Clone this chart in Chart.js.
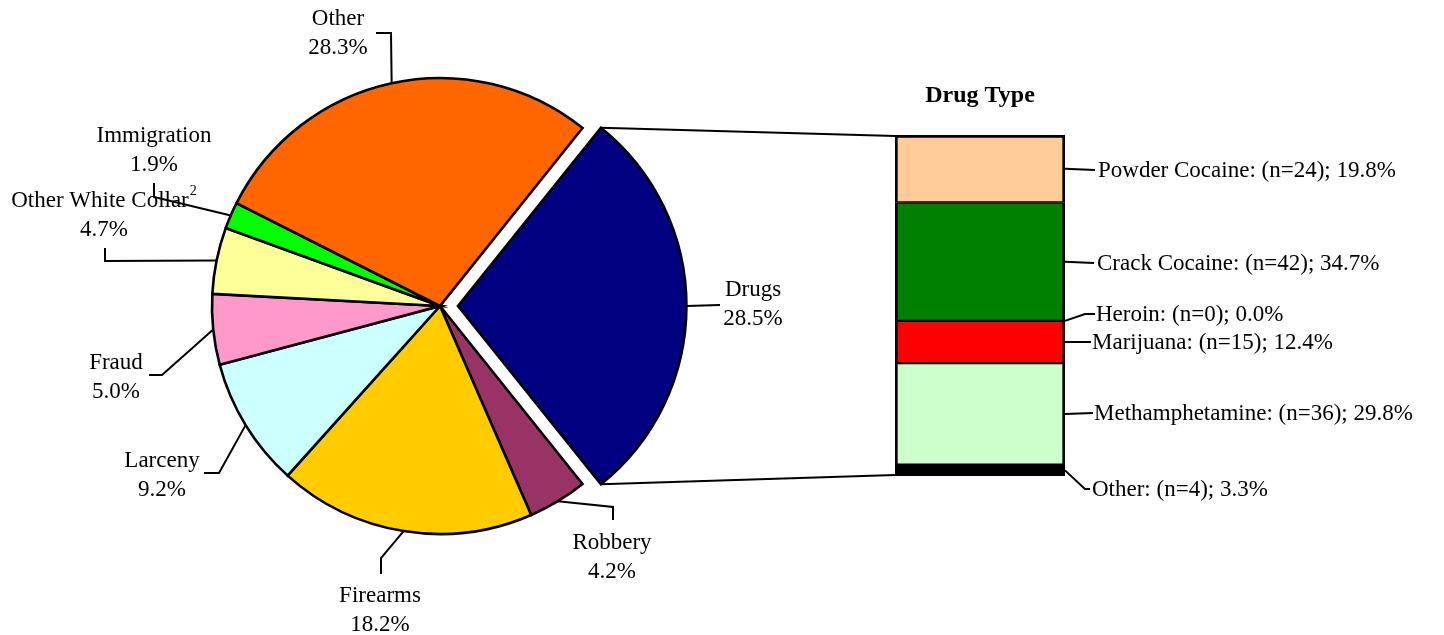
<!DOCTYPE html>
<html>
<head>
<meta charset="utf-8">
<script src="https://cdn.jsdelivr.net/npm/chart.js@4.4.0/dist/chart.umd.min.js"></script>
<style>
    body { margin: 0; background: #fff; }
    #wrap { position: relative; width: 1444px; height: 635px; }
    canvas { position: absolute; left: 0; top: 0; }
</style>
</head>
<body>
<div id="wrap">
    <canvas id="pieChart" width="1444" height="635"></canvas>
    <canvas id="barChart" width="1444" height="635"></canvas>
</div>
<script>
//pie data (percent of all cases), clockwise from the exploded slice
const pieLabels = ["Drugs", "Robbery", "Firearms", "Larceny", "Fraud", "Other White Collar", "Immigration", "Other"];
const pieValues = [28.5, 4.2, 18.2, 9.2, 5.0, 4.7, 1.9, 28.3];
const pieNotes = ["", "", "", "", "", "2", "", ""];
const pieColors = ["#000080", "#993366", "#FFCC00", "#CCFFFF", "#FF99CC", "#FFFF99", "#00FF00", "#FF6600"];

//drug type breakdown
const drugTypes = ["Powder Cocaine", "Crack Cocaine", "Heroin", "Marijuana", "Methamphetamine", "Other"];
const drugCounts = [24, 42, 0, 15, 36, 4];
const drugPercents = [19.8, 34.7, 0.0, 12.4, 29.8, 3.3];
const drugColors = ["#FFCC99", "#008000", "#FF0000", "#FF0000", "#CCFFCC", "#000000"];

//where the labels go (leader line elbows + text position)
const pieLabelLayout = [
    { path: [[720, 305]], text: [753, 290] },
    { path: [[613, 507], [613, 520]], text: [612, 543] },
    { path: [[381, 558], [381, 574]], text: [380, 596] },
    { path: [[219, 473], [204, 473]], text: [162, 461] },
    { path: [[162, 375], [149, 375]], text: [116, 363] },
    { path: [[105, 261], [105, 248]], text: [104, 201] },
    { path: [[154, 197], [154, 183]], text: [154, 136] },
    { path: [[391, 33], [376, 33]], text: [338, 19] }
];
const barLabelLayout = [
    { path: [[1095, 170]], text: [1098, 171] },
    { path: [[1094, 263]], text: [1097, 264] },
    { path: [[1085, 314], [1095, 314]], text: [1096, 315] },
    { path: [[1091, 342]], text: [1092, 343] },
    { path: [[1093, 413]], text: [1094, 414] },
    { path: [[1085, 489], [1090, 489]], text: [1092, 490] }
];

const FONT = '"Liberation Serif", "Times New Roman", serif';
const EXPLODE = 72;

function drawPath(ctx, start, pts) {
    ctx.beginPath();
    ctx.moveTo(start[0], start[1]);
    for (let p of pts) {
        ctx.lineTo(p[0], p[1]);
    }
    ctx.stroke();
}

//outer edge point of an arc, including the explode shift chart.js applies
function arcPoint(arc, angle) {
    const shift = (arc.options.offset || 0) / 4;
    const fix = 1 - Math.sin(Math.min(Math.PI, arc.circumference));
    const r = arc.outerRadius + shift * fix;
    const half = (arc.startAngle + arc.endAngle) / 2;
    return [arc.x + Math.cos(half) * shift + Math.cos(angle) * r,
            arc.y + Math.sin(half) * shift + Math.sin(angle) * r];
}

const pieLabelPlugin = {
    id: "pieLabels",
    afterDatasetsDraw(chart) {
        const ctx = chart.ctx;
        const arcs = chart.getDatasetMeta(0).data;
        ctx.save();
        ctx.strokeStyle = "#000";
        ctx.lineWidth = 2;
        ctx.fillStyle = "#000";
        ctx.textBaseline = "middle";
        arcs.forEach(function(arc, i) {
            const lay = pieLabelLayout[i];
            const anchor = arcPoint(arc, (arc.startAngle + arc.endAngle) / 2);
            drawPath(ctx, anchor, lay.path);

            ctx.font = "23px " + FONT;
            const name = pieLabels[i];
            const nameW = ctx.measureText(name).width;
            let noteW = 0;
            if (pieNotes[i]) {
                ctx.font = "14px " + FONT;
                noteW = ctx.measureText(pieNotes[i]).width + 1;
            }
            const left = lay.text[0] - (nameW + noteW) / 2;
            ctx.textAlign = "left";
            ctx.font = "23px " + FONT;
            ctx.fillText(name, left, lay.text[1]);
            if (pieNotes[i]) {
                ctx.font = "14px " + FONT;
                ctx.fillText(pieNotes[i], left + nameW + 1, lay.text[1] - 10);
            }
            ctx.font = "23px " + FONT;
            ctx.textAlign = "center";
            ctx.fillText(pieValues[i].toFixed(1) + "%", lay.text[0], lay.text[1] + 29);
        });
        ctx.restore();
    }
};

const barLabelPlugin = {
    id: "barLabels",
    afterDraw(chart) {
        const ctx = chart.ctx;
        const area = chart.chartArea;
        ctx.save();
        ctx.strokeStyle = "#000";
        ctx.lineWidth = 2;
        ctx.fillStyle = "#000";

        //title
        ctx.font = "bold 24px " + FONT;
        ctx.textAlign = "center";
        ctx.textBaseline = "middle";
        ctx.fillText("Drug Type", (area.left + area.right) / 2, 96);

        //leader lines + labels
        ctx.font = "23px " + FONT;
        ctx.textAlign = "left";
        for (let i = 0; i < drugTypes.length; i++) {
            const bar = chart.getDatasetMeta(i).data[0];
            const anchor = [bar.x + bar.width / 2, (bar.y + bar.base) / 2];
            const lay = barLabelLayout[i];
            drawPath(ctx, anchor, lay.path);
            const txt = drugTypes[i] + ": (n=" + drugCounts[i] + "); " + drugPercents[i].toFixed(1) + "%";
            ctx.fillText(txt, lay.text[0], lay.text[1]);
        }

        //connectors from the exploded drug slice to the bar
        const arc = pieChart.getDatasetMeta(0).data[0];
        const top = arcPoint(arc, arc.startAngle);
        const bottom = arcPoint(arc, arc.endAngle);
        drawPath(ctx, top, [[area.left, area.top + 1]]);
        drawPath(ctx, bottom, [[area.left, area.bottom - 1]]);
        ctx.restore();
    }
};

//pie chart, exploded slice centred on the right
const pieChart = new Chart(document.getElementById("pieChart"), {
    type: "pie",
    data: {
        labels: pieLabels,
        datasets: [{
            data: pieValues,
            backgroundColor: pieColors,
            borderColor: "#000",
            borderWidth: 2.6,
            borderJoinStyle: "miter",
            offset: pieValues.map(function(v, i) { return i == 0 ? EXPLODE : 0; })
        }]
    },
    options: {
        responsive: false,
        animation: false,
        events: [],
        radius: 228,
        rotation: 90 - pieValues[0] / 100 * 180,
        layout: { padding: { left: 0, right: 564, top: 0, bottom: 23 } },
        plugins: { legend: { display: false }, tooltip: { enabled: false } }
    },
    plugins: [pieLabelPlugin]
});

//stacked single bar for drug types; shared edges get half a border from each side
const last = drugTypes.length - 1;
const barChart = new Chart(document.getElementById("barChart"), {
    type: "bar",
    data: {
        labels: ["Drugs"],
        datasets: drugTypes.map(function(name, i) {
            return {
                label: name,
                data: [drugPercents[i]],
                backgroundColor: drugColors[i],
                borderColor: "#000",
                borderWidth: { left: 3, right: 3, top: i == 0 ? 3 : 1.5, bottom: i == last ? 3 : 1.5 },
                borderSkipped: false,
                barPercentage: 1,
                categoryPercentage: 1
            };
        })
    },
    options: {
        responsive: false,
        animation: false,
        events: [],
        layout: { padding: { left: 895, right: 379, top: 135, bottom: 159 } },
        scales: {
            x: { stacked: true, display: false },
            y: { stacked: true, display: false, min: 0, max: 100, reverse: true }
        },
        plugins: { legend: { display: false }, tooltip: { enabled: false } }
    },
    plugins: [barLabelPlugin]
});
</script>
</body>
</html>
